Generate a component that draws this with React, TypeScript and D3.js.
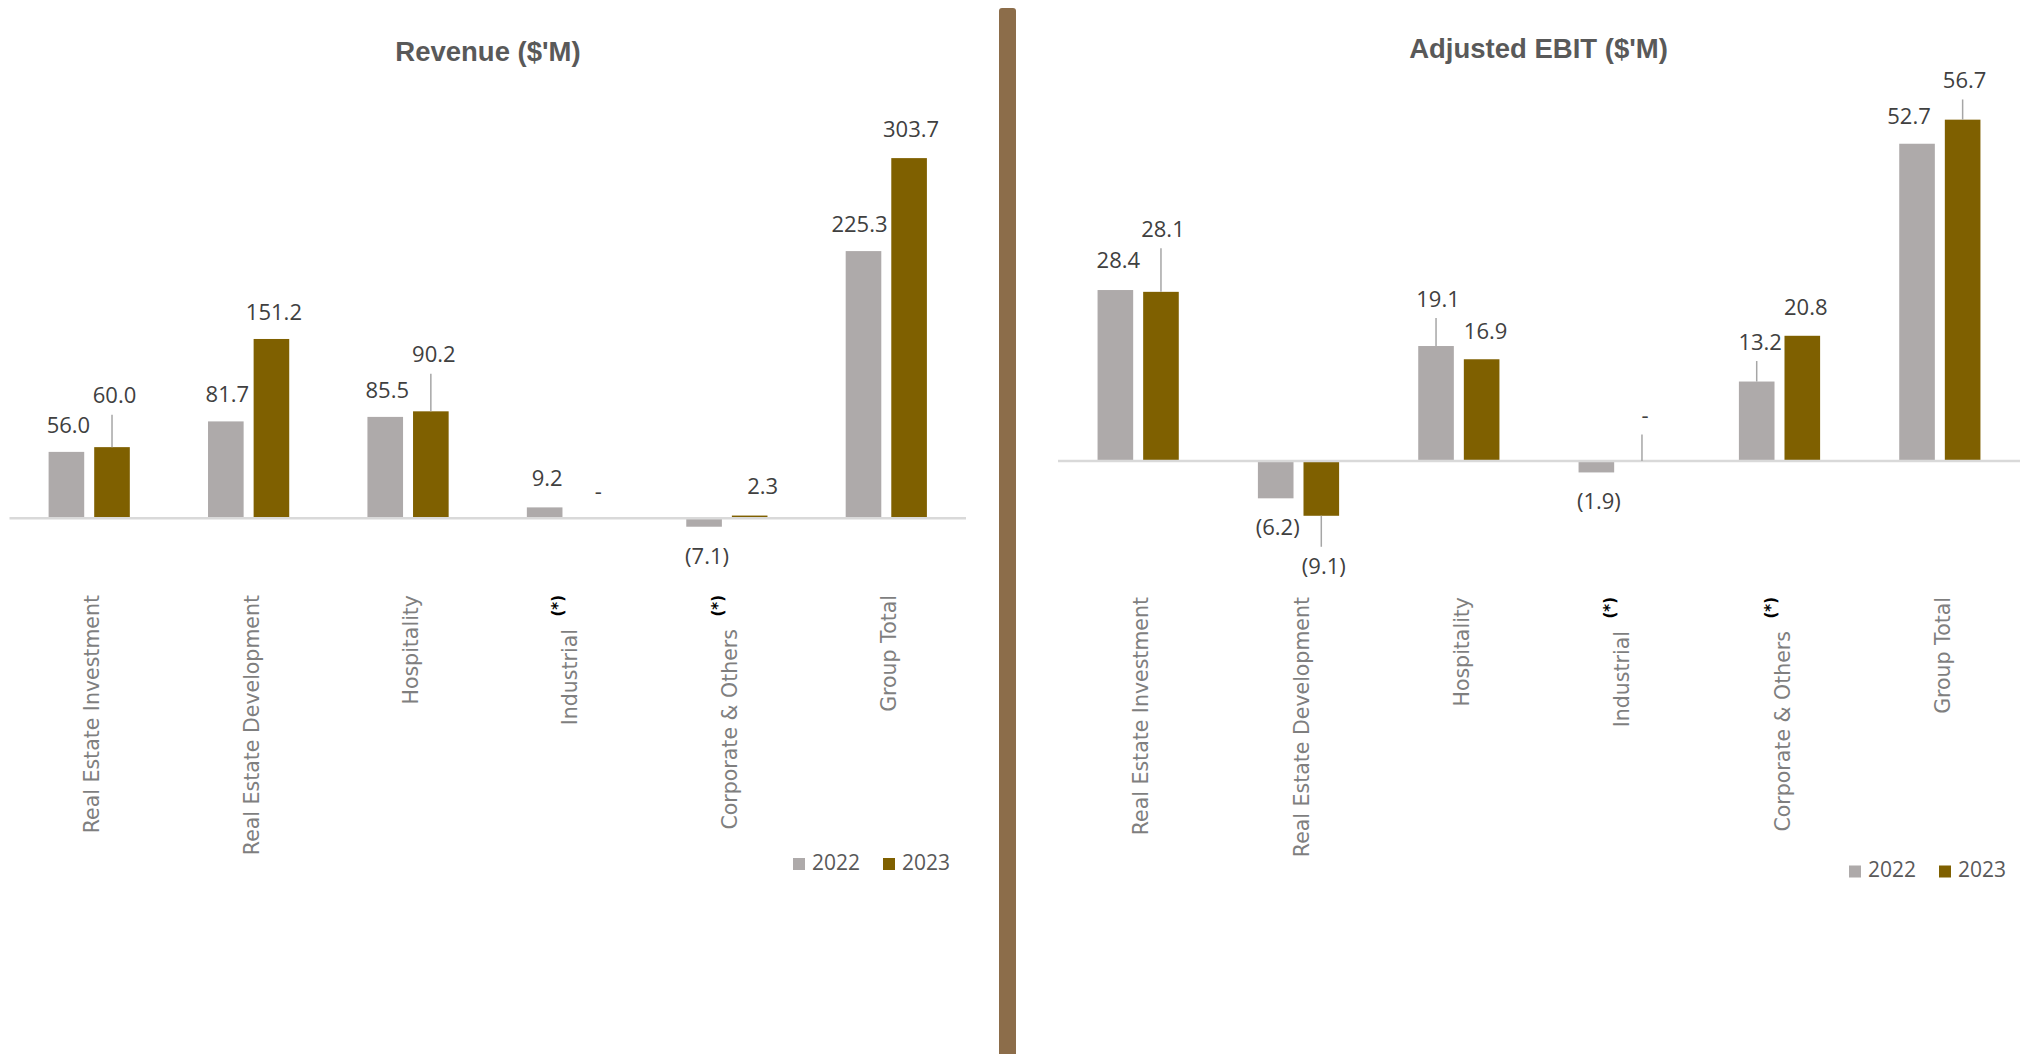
import React from 'react';
import * as d3 from 'd3';

// ---------- data ----------
const categories = ['Real Estate Investment', 'Real Estate Development', 'Hospitality', 'Industrial', 'Corporate & Others', 'Group Total'];
const footnoteMark = ['', '', '', '(*)', '(*)', ''];
const seriesNames = ['2022', '2023'];
const revenue2022 = [56.0, 81.7, 85.5, 9.2, -7.1, 225.3];
const revenue2023 = [60.0, 151.2, 90.2, 0, 2.3, 303.7];
const ebit2022 = [28.4, -6.2, 19.1, -1.9, 13.2, 52.7];
const ebit2023 = [28.1, -9.1, 16.9, 0, 20.8, 56.7];

// ---------- styling / layout ----------
const COLORS = ['#AEAAAA', '#7F6000'];
const W = 2030;
const H = 1054;

type Off = [number, number, boolean];

const revenueOffsets: Off[][] = [
  [[2, 0, false], [1.5, 0, false], [2, 0, false], [2.5, -2, false], [3, 0, false], [-4, 0, false]],
  [[2.5, -25, true], [2.5, 0, false], [3, -30, true], [8, 0, false], [13, -2.5, false], [2, -2, false]],
];
const ebitOffsets: Off[][] = [
  [[3, -2.7, false], [2, 0, false], [2, -20.5, true], [2.5, 0, false], [3.5, -13, true], [-8, -1, false]],
  [[2, -36, true], [2.5, 21, true], [4, -1, false], [3, -19, true], [3.5, -2, false], [2, -12.7, true]],
];

const fmt = d3.format('.1f');
function labelText(v: number) {
  if (v === 0) return '-';
  return v < 0 ? `(${fmt(-v)})` : fmt(v);
}

interface ChartProps {
  title: string;
  titleX: number;
  titleY: number;
  series: number[][];
  offsets: Off[][];
  x0: number;
  x1: number;
  baseline: number;
  pxPerUnit: number;
  catTop: number;
  legendX: number;
  legendY: number;
}

function Chart(p: ChartProps) {
  const x = d3.scaleBand<string>().domain(categories).range([p.x0, p.x1]).padding(0);
  const bw = x.bandwidth();
  const pairHalf = 45.6;
  const xs = d3
    .scaleBand<string>()
    .domain(seriesNames)
    .range([bw / 2 - pairHalf, bw / 2 + pairHalf])
    .paddingInner(0.219)
    .paddingOuter(0.1095);
  const y = d3
    .scaleLinear()
    .domain([0, 100])
    .range([p.baseline, p.baseline - 100 * p.pxPerUnit]);

  const valueFont = { fontFamily: '"Open Sans", "Noto Sans", sans-serif', fontSize: 22, fill: '#404040' };

  return (
    <g>
      <text
        x={p.titleX}
        y={p.titleY}
        textAnchor="middle"
        style={{ fontFamily: '"Liberation Sans", Arial, sans-serif', fontWeight: 700, fontSize: 27.5, fill: '#595959' }}
      >
        {p.title}
      </text>
      {/* bars */}
      {p.series.map((vals, si) =>
        vals.map((v, ci) => {
          const bx = (x(categories[ci]) as number) + (xs(seriesNames[si]) as number);
          const top = Math.min(y(v), y(0));
          const h = Math.abs(y(v) - y(0));
          return <rect key={`b${si}-${ci}`} x={bx} y={top} width={xs.bandwidth()} height={Math.max(h, 0)} fill={COLORS[si]} />;
        })
      )}
      {/* axis line */}
      <line x1={p.x0} x2={p.x1} y1={y(0)} y2={y(0)} stroke="#D9D9D9" strokeWidth={2.5} />
      {/* value labels */}
      {p.series.map((vals, si) =>
        vals.map((v, ci) => {
          const cx = (x(categories[ci]) as number) + (xs(seriesNames[si]) as number) + xs.bandwidth() / 2;
          const [dx, dy, leader] = p.offsets[si][ci];
          const neg = v < 0;
          const base = neg ? y(v) + 37 + dy : y(v) - 19 + dy;
          return (
            <g key={`l${si}-${ci}`}>
              {leader && (
                <line
                  x1={cx}
                  x2={cx}
                  y1={y(v)}
                  y2={neg ? base - 27 : base + 11.5}
                  stroke="#A6A6A6"
                  strokeWidth={1.5}
                />
              )}
              <text x={cx + dx} y={base} textAnchor="middle" style={valueFont}>
                {labelText(v)}
              </text>
            </g>
          );
        })
      )}
      {/* category labels */}
      {categories.map((c, ci) => {
        const cx = (x(c) as number) + bw / 2;
        return (
          <text
            key={`c${ci}`}
            transform={`translate(${cx + 10},${p.catTop}) rotate(-90)`}
            textAnchor="end"
            style={{ fontFamily: '"DejaVu Sans", Verdana, sans-serif', fontSize: 20.5, fill: '#7F7F7F' }}
          >
            {c}
            {footnoteMark[ci] && (
              <>
                <tspan> </tspan>
                <tspan dx={6} dy={-14} style={{ fontSize: 15, fill: '#000000', fontWeight: 700 }}>
                  {footnoteMark[ci]}
                </tspan>
              </>
            )}
          </text>
        );
      })}
      {/* legend */}
      {seriesNames.map((s, si) => (
        <g key={`lg${si}`} transform={`translate(${p.legendX + si * 90},${p.legendY})`}>
          <rect x={0} y={-11.5} width={12} height={12} fill={COLORS[si]} />
          <text x={19} y={0} style={{ fontFamily: '"Open Sans", "Noto Sans", sans-serif', fontSize: 21, fill: '#595959' }}>
            {s}
          </text>
        </g>
      ))}
    </g>
  );
}

export default function App() {
  return (
    <svg
      width={W}
      height={H}
      viewBox={`0 0 ${W} ${H}`}
      style={{ position: 'fixed', left: 0, top: 0, background: '#FFFFFF', display: 'block' }}
    >
      <rect x={0} y={0} width={W} height={H} fill="#FFFFFF" />
      <Chart
        title="Revenue ($'M)"
        titleX={488}
        titleY={61}
        series={[revenue2022, revenue2023]}
        offsets={revenueOffsets}
        x0={9.5}
        x1={966}
        baseline={518.3}
        pxPerUnit={1.186}
        catTop={595}
        legendX={793}
        legendY={869.5}
      />
      <Chart
        title="Adjusted EBIT ($'M)"
        titleX={1538.5}
        titleY={57.5}
        series={[ebit2022, ebit2023]}
        offsets={ebitOffsets}
        x0={1058}
        x1={2020}
        baseline={461}
        pxPerUnit={6.02}
        catTop={597}
        legendX={1849}
        legendY={877}
      />
      {/* separator */}
      <rect x={999} y={8} width={17} height={H} rx={3} fill="#8C6D4A" />
    </svg>
  );
}
